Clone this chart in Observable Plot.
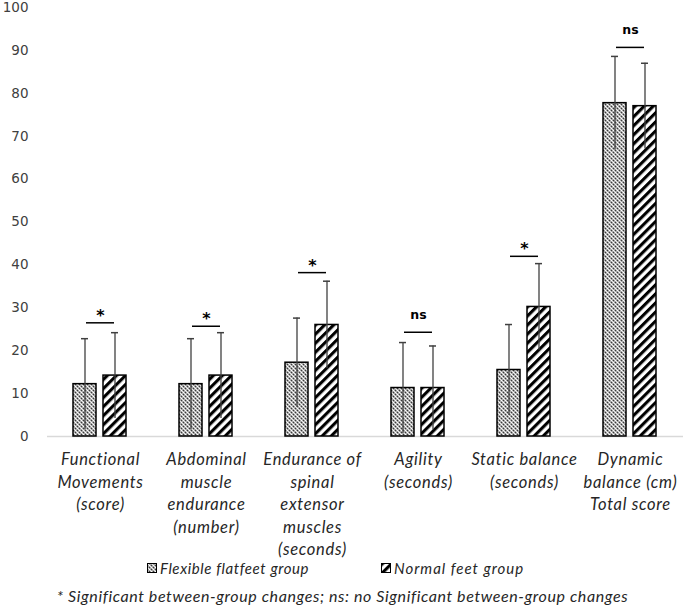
<!DOCTYPE html>
<html>
<head>
<meta charset="utf-8">
<script src="https://cdn.jsdelivr.net/npm/d3@7"></script>
<script src="https://cdn.jsdelivr.net/npm/@observablehq/plot@0.6"></script>
<style>
  html, body { margin: 0; padding: 0; background: #fff; }
  #wrap { width: 685px; position: relative; }
  svg.plot { overflow: visible; }
  [aria-label="fx-axis tick label"] text { letter-spacing: 0.7px; }
  .legend { position: relative; height: 14px; font-family: Lato, "Open Sans", sans-serif; font-style: italic; font-size: 15px; letter-spacing: 0.6px; color: #262626; }
  .legend .item { position: absolute; top: -4px; line-height: 20px; display: flex; align-items: center; }
  .legend svg { margin-right: 3px; }
  .caption { margin-top: 11px; line-height: 18px; text-align: center; font-family: Lato, "Open Sans", sans-serif; font-style: italic; font-size: 16px; letter-spacing: 0.6px; color: #262626; }
</style>
</head>
<body>
<div id="wrap"></div>
<script>
// ---- data ----
const categories = [
  "Functional\nMovements\n(score)",
  "Abdominal\nmuscle\nendurance\n(number)",
  "Endurance of\nspinal\nextensor\nmuscles\n(seconds)",
  "Agility\n(seconds)",
  "Static balance\n(seconds)",
  "Dynamic\nbalance (cm)\nTotal score"
];
const groups = ["Flexible flatfeet group", "Normal feet group"];
const flatMeans   = [12.2, 12.2, 17.2, 11.3, 15.5, 77.7];
const flatSD      = [10.6, 10.6, 10.4, 10.6, 10.6, 10.9];
const normalMeans = [14.2, 14.2, 26.0, 11.3, 30.2, 77.0];
const normalSD    = [10.0, 10.0, 10.2, 9.8, 10.1, 10.0];
const sigLabels   = ["*", "*", "*", "ns", "*", "ns"];
const sigLineY    = [26.5, 25.7, 38.2, 24.3, 42.0, 90.7];
const yTicks      = [0, 10, 20, 30, 40, 50, 60, 70, 80, 90, 100];

// ---- tables built from the arrays ----
const rows = [];
categories.forEach((c, i) => {
  rows.push({cat: c, group: groups[0], mean: flatMeans[i], sd: flatSD[i]});
  rows.push({cat: c, group: groups[1], mean: normalMeans[i], sd: normalSD[i]});
});
const sig = categories.map((c, i) => ({cat: c, label: sigLabels[i], y: sigLineY[i]}));

const chart = Plot.plot({
  width: 685,
  height: 562,
  marginLeft: 46,
  marginRight: 2,
  marginTop: 7,
  marginBottom: 126,
  style: {background: "white"},
  fx: {domain: categories, padding: 0, label: null},
  x: {domain: groups, paddingInner: 0.22, paddingOuter: 0.86, axis: null},
  y: {domain: [0, 100], label: null},
  marks: [
    Plot.ruleY([0], {stroke: "#d9d9d9", strokeWidth: 1.5}),
    Plot.barY(rows.filter(d => d.group === groups[0]), {fx: "cat", x: "group", y: "mean", fill: "url(#patFlat)", stroke: "#000", strokeWidth: 1.5}),
    Plot.barY(rows.filter(d => d.group === groups[1]), {fx: "cat", x: "group", y: "mean", fill: "url(#patNormal)", stroke: "#000", strokeWidth: 1.5}),
    Plot.ruleX(rows, {fx: "cat", x: "group", y1: d => d.mean - d.sd, y2: d => d.mean + d.sd, stroke: "#404040", strokeWidth: 1.3}),
    Plot.tickY(rows, {fx: "cat", x: "group", y: d => d.mean + d.sd, stroke: "#404040", strokeWidth: 1.5, insetLeft: 8, insetRight: 8}),
    Plot.ruleY(sig, {fx: "cat", y: "y", stroke: "#000", strokeWidth: 1.5, insetLeft: 39, insetRight: 39}),
    Plot.text(sig.filter(d => d.label === "*"), {fx: "cat", y: "y", text: "label", dy: -7, fontSize: 16, fontWeight: "bold", fill: "#000", fontFamily: "DejaVu Sans"}),
    Plot.text(sig.filter(d => d.label === "ns"), {fx: "cat", y: "y", text: "label", dy: -17, fontSize: 12.5, fontWeight: "bold", fill: "#000", fontFamily: "DejaVu Sans"}),
    Plot.axisY({ticks: yTicks, tickSize: 0, tickPadding: 19, fontSize: 13.5, fill: "#404040", fontFamily: "DejaVu Sans", label: null}),
    Plot.axisFx({anchor: "bottom", tickSize: 0, tickPadding: 13, fontSize: 16.5, fontStyle: "italic", fontFamily: "Lato", lineHeight: 1.36, fill: "#262626", label: null})
  ]
});

const defs = `
<defs>
  <pattern id="patFlat" width="4" height="4" patternUnits="userSpaceOnUse">
    <rect width="4" height="4" fill="#a8a8a8"/>
    <rect x="0" y="0" width="1" height="1" fill="#fff"/>
    <rect x="2" y="2" width="1" height="1" fill="#fff"/>
    <rect x="2" y="0" width="1" height="1" fill="#3a3a3a"/>
    <rect x="0" y="2" width="1" height="1" fill="#3a3a3a"/>
    <rect x="1" y="1" width="1" height="1" fill="#e8e8e8"/>
    <rect x="3" y="3" width="1" height="1" fill="#e8e8e8"/>
  </pattern>
  <pattern id="patNormal" width="6.4" height="6.4" patternUnits="userSpaceOnUse" patternTransform="rotate(45)">
    <rect width="6.4" height="6.4" fill="#fff"/>
    <rect width="3.1" height="6.4" fill="#000"/>
  </pattern>
</defs>`;
chart.insertAdjacentHTML("afterbegin", defs);

const wrap = document.getElementById("wrap");
wrap.appendChild(chart);

const legend = document.createElement("div");
legend.className = "legend";
legend.innerHTML = `
  <div class="item" style="left:147px"><svg width="10" height="10"><rect x="0.5" y="0.5" width="9" height="9" fill="url(#patFlat)" stroke="#000" stroke-width="1"/></svg>${groups[0]}</div>
  <div class="item" style="left:381px;letter-spacing:1px"><svg width="10" height="10"><rect x="0.5" y="0.5" width="9" height="9" fill="url(#patNormal)" stroke="#000" stroke-width="1"/></svg>${groups[1]}</div>`;
wrap.appendChild(legend);

const caption = document.createElement("div");
caption.className = "caption";
caption.textContent = "* Significant between-group changes; ns: no Significant between-group changes";
wrap.appendChild(caption);
</script>
</body>
</html>
